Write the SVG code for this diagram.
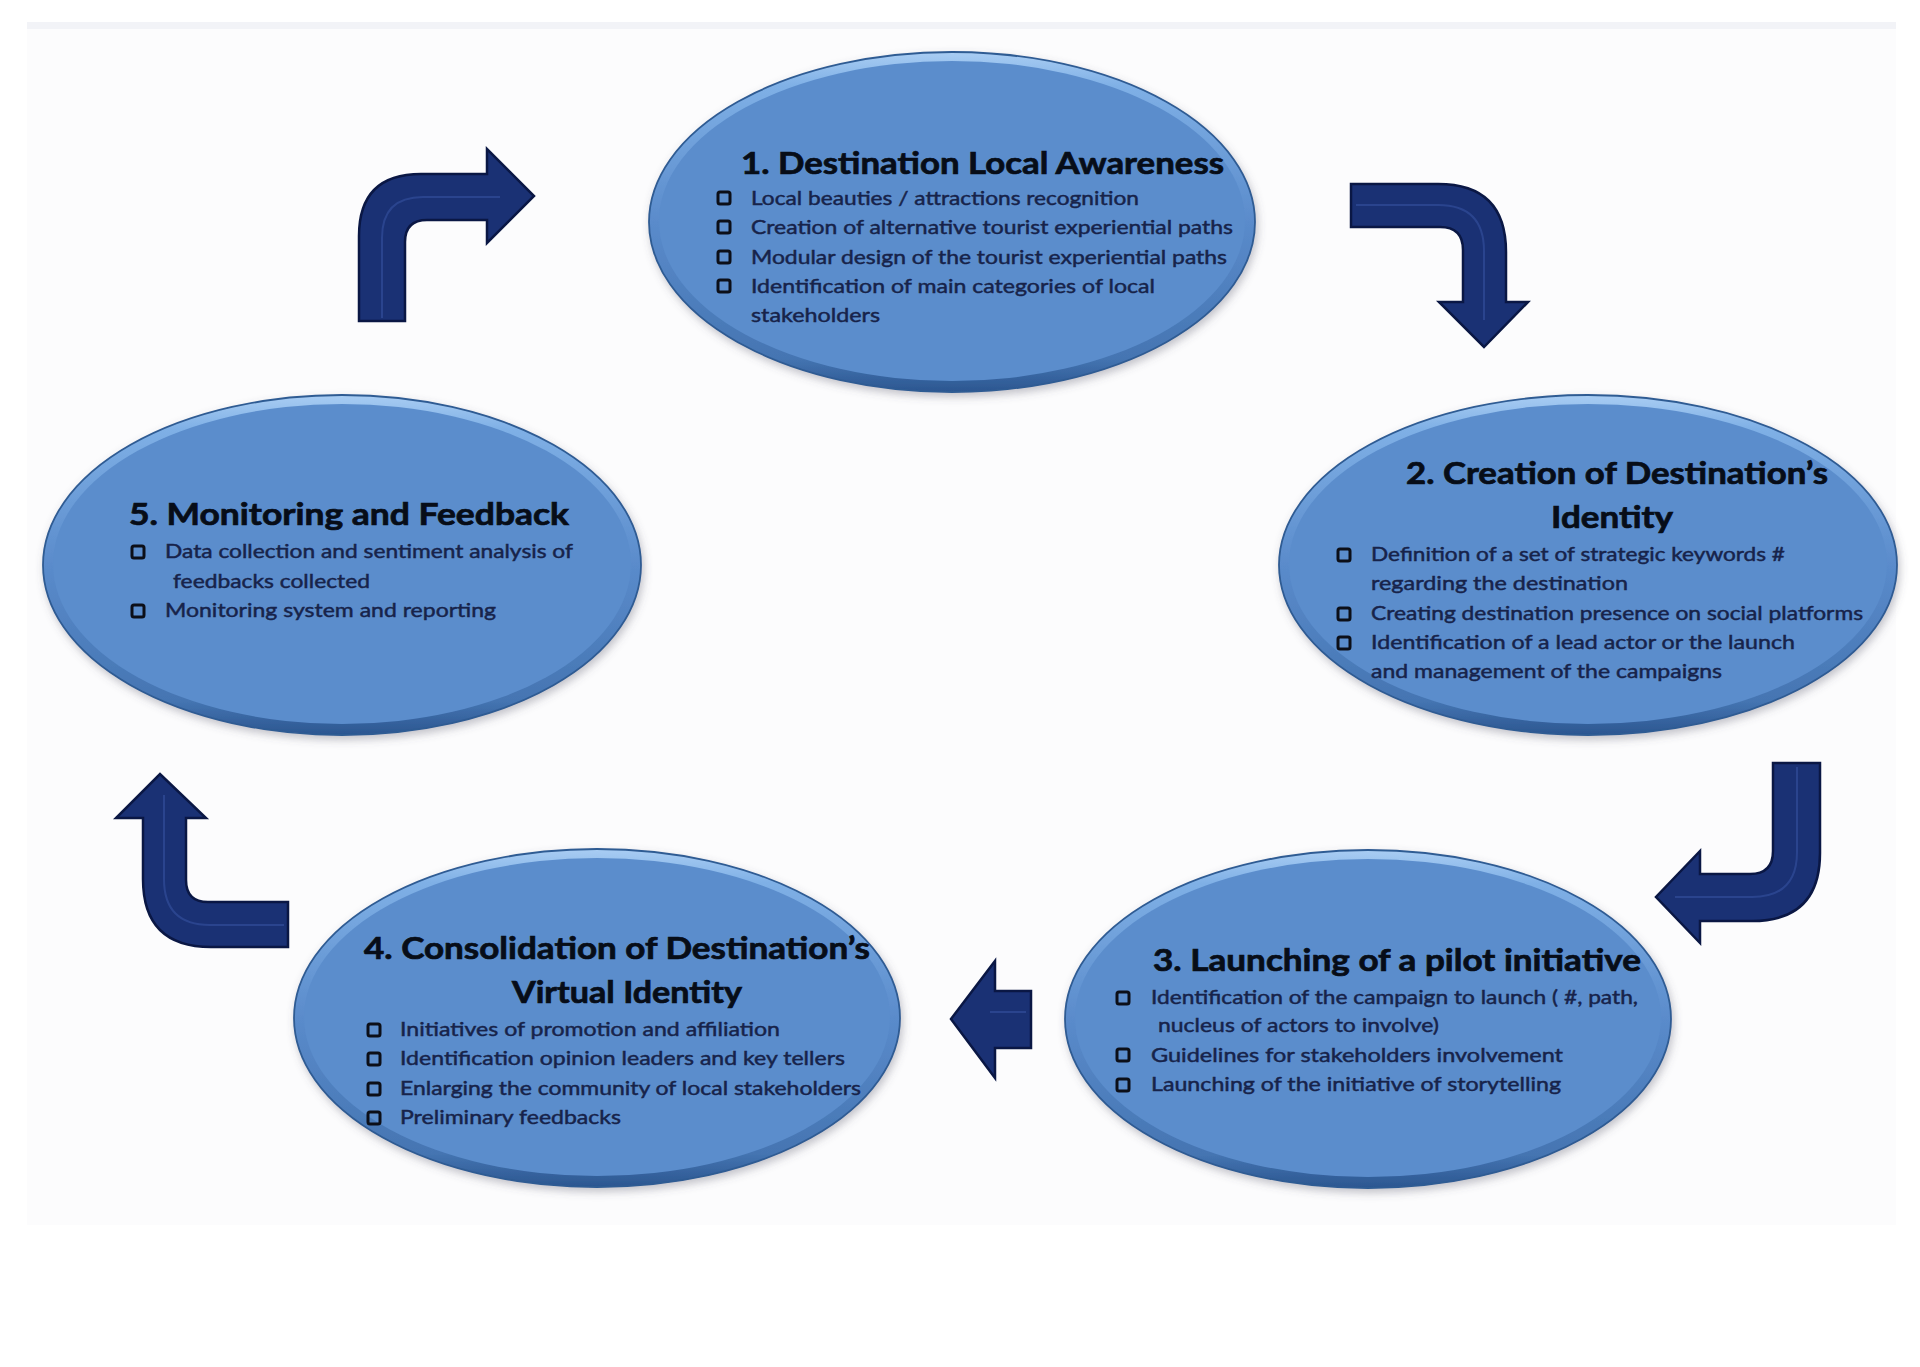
<svg xmlns="http://www.w3.org/2000/svg" width="1920" height="1367" viewBox="0 0 1920 1367">
<style>
.rim{fill:url(#rimg);stroke:#2f5b93;stroke-width:1.8}
.body{fill:#5b8dcc}
.title{font-family:Lato,"Open Sans","Liberation Sans",sans-serif;font-weight:700;font-size:30px;fill:#070d18;stroke:#070d18;stroke-width:0.7}
.item{font-family:Lato,"Open Sans","Liberation Sans",sans-serif;font-size:19px;fill:#17234a;stroke:#17234a;stroke-width:0.45}
.bx{fill:none;stroke:#0c0f18;stroke-width:3}
.arrow{fill:#1a3174;stroke:#0a1744;stroke-width:2.5;stroke-linejoin:miter}
.hl{fill:none;stroke:#3551a0;stroke-width:2;opacity:0.6}
</style>
<defs>
<linearGradient id="rimg" x1="0" y1="0" x2="0" y2="1">
<stop offset="0" stop-color="#a9cdf3"/>
<stop offset="0.1" stop-color="#7fb0e6"/>
<stop offset="0.5" stop-color="#5a8bcb"/>
<stop offset="0.9" stop-color="#4575b2"/>
<stop offset="1" stop-color="#2b5690"/>
</linearGradient>
<filter id="sh" x="-10%" y="-10%" width="120%" height="125%">
<feDropShadow dx="2" dy="4" stdDeviation="4" flood-color="#556" flood-opacity="0.35"/>
</filter>
</defs>
<rect x="0" y="0" width="1920" height="1367" fill="#ffffff"/>
<rect x="27" y="22" width="1869" height="1203" fill="#fcfcfd"/>
<rect x="27" y="22" width="1869" height="7" fill="#f2f3f7"/>

<g id="connectors">
<path class="arrow" d="M359 321 L359 236 Q359 174 421 174 L487 174 L487 149 L534 196 L487 243 L487 220 L427 220 Q405 220 405 242 L405 321 Z"/>
<path class="hl" d="M382 318 L382 238 Q382 197 423 197 L500 197"/>
<path class="arrow" d="M1351 184 L1438 184 Q1506 184 1506 252 L1506 302 L1528 302 L1484 347 L1439 302 L1463 302 L1463 250 Q1463 227 1440 227 L1351 227 Z"/>
<path class="hl" d="M1356 205 L1438 205 Q1484 205 1484 251 L1484 320"/>
<path class="arrow" d="M1773 763 L1820 763 L1820 853 Q1820 921 1752 921 L1700 921 L1700 943 L1656 897 L1700 851 L1700 874 L1750 874 Q1773 874 1773 851 Z"/>
<path class="hl" d="M1797 767 L1797 852 Q1797 897 1752 897 L1675 897"/>
<path class="arrow" d="M1031 991 L1031 1048 L995 1048 L995 1078 L951 1019 L995 961 L995 991 Z"/>
<path class="hl" d="M1026 1012 L990 1012"/>
<path class="arrow" d="M288 902 L288 947 L211 947 Q143 947 143 879 L143 818 L116 818 L160 774 L206 818 L186 818 L186 880 Q186 902 208 902 Z"/>
<path class="hl" d="M284 925 L210 925 Q164 925 164 879 L164 795"/>
</g>

<g id="node1">
<ellipse class="rim" cx="952" cy="222" rx="303" ry="170" filter="url(#sh)"/>
<ellipse class="body" cx="952" cy="221" rx="293" ry="160"/>
<text class="title" x="741" y="174" textLength="483" lengthAdjust="spacingAndGlyphs">1. Destination Local Awareness</text>
<rect class="bx" x="718" y="192" width="12" height="12" rx="2"/>
<rect class="bx" x="718" y="221" width="12" height="12" rx="2"/>
<rect class="bx" x="718" y="251" width="12" height="12" rx="2"/>
<rect class="bx" x="718" y="280" width="12" height="12" rx="2"/>
<text class="item" x="751" y="205" textLength="388" lengthAdjust="spacingAndGlyphs">Local beauties / attractions recognition</text>
<text class="item" x="751" y="234" textLength="482" lengthAdjust="spacingAndGlyphs">Creation of alternative tourist experiential paths</text>
<text class="item" x="751" y="264" textLength="476" lengthAdjust="spacingAndGlyphs">Modular design of the tourist experiential paths</text>
<text class="item" x="751" y="293" textLength="404" lengthAdjust="spacingAndGlyphs">Identification of  main categories of local</text>
<text class="item" x="751" y="322" textLength="129" lengthAdjust="spacingAndGlyphs">stakeholders</text>
</g>

<g id="node2">
<ellipse class="rim" cx="1588" cy="565" rx="309" ry="170" filter="url(#sh)"/>
<ellipse class="body" cx="1588" cy="564" rx="299" ry="160"/>
<text class="title" x="1406" y="484" textLength="422" lengthAdjust="spacingAndGlyphs">2. Creation of Destination’s</text>
<text class="title" x="1551" y="528" textLength="122" lengthAdjust="spacingAndGlyphs">Identity</text>
<rect class="bx" x="1338" y="549" width="12" height="12" rx="2"/>
<rect class="bx" x="1338" y="608" width="12" height="12" rx="2"/>
<rect class="bx" x="1338" y="637" width="12" height="12" rx="2"/>
<text class="item" x="1371" y="561" textLength="414" lengthAdjust="spacingAndGlyphs">Definition of a set of strategic keywords #</text>
<text class="item" x="1371" y="590" textLength="257" lengthAdjust="spacingAndGlyphs">regarding the destination</text>
<text class="item" x="1371" y="620" textLength="492" lengthAdjust="spacingAndGlyphs">Creating destination presence on social platforms</text>
<text class="item" x="1371" y="649" textLength="424" lengthAdjust="spacingAndGlyphs">Identification of  a lead actor or the launch</text>
<text class="item" x="1371" y="678" textLength="351" lengthAdjust="spacingAndGlyphs">and management of the campaigns</text>
</g>

<g id="node3">
<ellipse class="rim" cx="1368" cy="1019" rx="303" ry="169" filter="url(#sh)"/>
<ellipse class="body" cx="1368" cy="1018" rx="293" ry="159"/>
<text class="title" x="1153" y="971" textLength="488" lengthAdjust="spacingAndGlyphs">3. Launching of a pilot initiative</text>
<rect class="bx" x="1117" y="992" width="12" height="12" rx="2"/>
<rect class="bx" x="1117" y="1049" width="12" height="12" rx="2"/>
<rect class="bx" x="1117" y="1079" width="12" height="12" rx="2"/>
<text class="item" x="1151" y="1004" textLength="487" lengthAdjust="spacingAndGlyphs">Identification of the campaign to launch ( #, path,</text>
<text class="item" x="1158" y="1032" textLength="281" lengthAdjust="spacingAndGlyphs">nucleus of actors to involve)</text>
<text class="item" x="1151" y="1062" textLength="412" lengthAdjust="spacingAndGlyphs">Guidelines for stakeholders  involvement</text>
<text class="item" x="1151" y="1091" textLength="410" lengthAdjust="spacingAndGlyphs">Launching of the  initiative of storytelling</text>
</g>

<g id="node4">
<ellipse class="rim" cx="597" cy="1018" rx="303" ry="169" filter="url(#sh)"/>
<ellipse class="body" cx="597" cy="1017" rx="293" ry="159"/>
<text class="title" x="364" y="959" textLength="506" lengthAdjust="spacingAndGlyphs">4. Consolidation  of Destination’s</text>
<text class="title" x="512" y="1003" textLength="230" lengthAdjust="spacingAndGlyphs">Virtual Identity</text>
<rect class="bx" x="368" y="1024" width="12" height="12" rx="2"/>
<rect class="bx" x="368" y="1053" width="12" height="12" rx="2"/>
<rect class="bx" x="368" y="1083" width="12" height="12" rx="2"/>
<rect class="bx" x="368" y="1112" width="12" height="12" rx="2"/>
<text class="item" x="400" y="1036" textLength="380" lengthAdjust="spacingAndGlyphs">Initiatives of promotion and affiliation</text>
<text class="item" x="400" y="1065" textLength="445" lengthAdjust="spacingAndGlyphs">Identification opinion leaders and key tellers</text>
<text class="item" x="400" y="1095" textLength="461" lengthAdjust="spacingAndGlyphs">Enlarging the community of local stakeholders</text>
<text class="item" x="400" y="1124" textLength="221" lengthAdjust="spacingAndGlyphs">Preliminary feedbacks</text>
</g>

<g id="node5">
<ellipse class="rim" cx="342" cy="565" rx="299" ry="170" filter="url(#sh)"/>
<ellipse class="body" cx="342" cy="564" rx="289" ry="160"/>
<text class="title" x="129" y="525" textLength="440" lengthAdjust="spacingAndGlyphs">5. Monitoring and Feedback</text>
<rect class="bx" x="132" y="546" width="12" height="12" rx="2"/>
<rect class="bx" x="132" y="605" width="12" height="12" rx="2"/>
<text class="item" x="165" y="558" textLength="408" lengthAdjust="spacingAndGlyphs">Data collection and sentiment analysis of</text>
<text class="item" x="173" y="588" textLength="197" lengthAdjust="spacingAndGlyphs">feedbacks collected</text>
<text class="item" x="165" y="617" textLength="331" lengthAdjust="spacingAndGlyphs">Monitoring system and reporting</text>
</g>
</svg>
